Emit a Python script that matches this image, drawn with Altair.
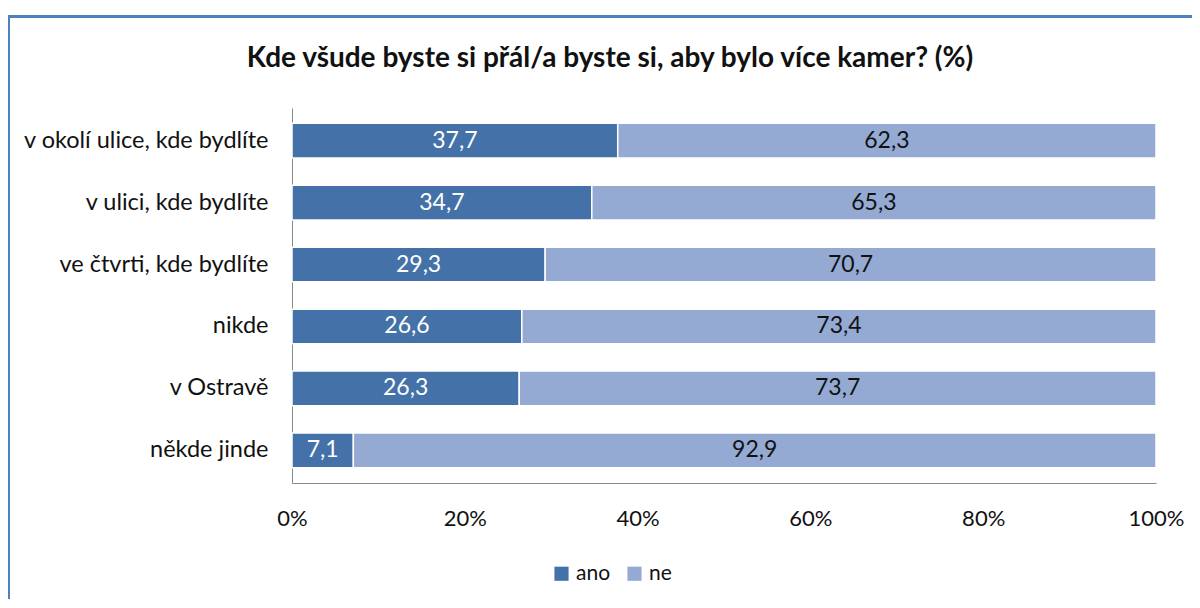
import altair as alt
import pandas as pd

categories = ["v okolí ulice, kde bydlíte", "v ulici, kde bydlíte", "ve čtvrti, kde bydlíte",
              "nikde", "v Ostravě", "někde jinde"]
ano = [37.7, 34.7, 29.3, 26.6, 26.3, 7.1]
ne = [62.3, 65.3, 70.7, 73.4, 73.7, 92.9]
series = ["ano", "ne"]
x_ticks = [0, 20, 40, 60, 80, 100]
title_text = "Kde všude byste si přál/a byste si, aby bylo více kamer? (%)"

rows = []
for i, c in enumerate(categories):
    start = 0.0
    for s, v in zip(series, [ano[i], ne[i]]):
        rows.append({"cat": c, "series": s, "value": v, "start": start, "end": start + v})
        start += v
df = pd.DataFrame(rows)

FONT = "Lato"
DARK = "#4472A8"
LIGHT = "#94AAD3"

y_enc = alt.Y("cat:N", sort=categories, title=None,
              scale=alt.Scale(paddingInner=0.44, paddingOuter=0.245),
              axis=alt.Axis(ticks=False, labelPadding=24, labelFontSize=23.5, labelFont=FONT,
                            labelColor="#111", domainColor="#888", labelLimit=400))
x_enc = alt.X("start:Q", title=None,
              scale=alt.Scale(domain=[0, 100], nice=False),
              axis=alt.Axis(values=x_ticks, labelExpr="datum.value + '%'", ticks=False, grid=False,
                            labelFlush=False, labelPadding=25, labelFontSize=22, labelFont=FONT,
                            labelColor="#111", domainColor="#888"))

bars = alt.Chart(df).mark_bar(stroke="white", strokeWidth=1.5).encode(
    y=y_enc,
    x=x_enc,
    x2="end:Q",
    color=alt.Color("series:N", sort=series,
                    scale=alt.Scale(domain=series, range=[DARK, LIGHT]),
                    legend=alt.Legend(title=None, orient="none", direction="horizontal",
                                      legendX=259, legendY=455, symbolType="square",
                                      symbolSize=200, symbolStrokeWidth=0, labelFontSize=21,
                                      labelFont=FONT, labelColor="#111", columnPadding=13)),
)

labels = alt.Chart(df).transform_calculate(
    mid="(datum.start + datum.end) / 2",
    lbl="replace(format(datum.value, '.1f'), '.', ',')",
).mark_text(fontSize=23, font=FONT).encode(
    y=alt.Y("cat:N", sort=categories),
    x=alt.X("mid:Q"),
    text="lbl:N",
    color=alt.condition(alt.datum.series == "ano", alt.value("white"), alt.value("#111")),
)

one = pd.DataFrame({"a": [0]})
frame = alt.Chart(one).mark_rect(
    fill=None, stroke="#4F81BD", strokeWidth=3
).encode(
    x=alt.value(-283.5), x2=alt.value(1000), y=alt.value(-91.5), y2=alt.value(700)
)

title = alt.Chart(one).mark_text(
    text=title_text, fontSize=28, font=FONT, fontWeight="bold", color="#111",
    align="center", baseline="middle"
).encode(x=alt.value(318), y=alt.value(-49))

chart = alt.layer(frame, bars, labels, title).properties(
    width=864, height=375,
    padding={"left": 284, "top": 100, "right": 36, "bottom": 116},
    autosize=alt.AutoSizeParams(type="none"),
    background="white",
).configure_view(stroke="transparent", strokeWidth=0)

chart.save("out.html", embed_options={"renderer": "svg", "actions": False})
